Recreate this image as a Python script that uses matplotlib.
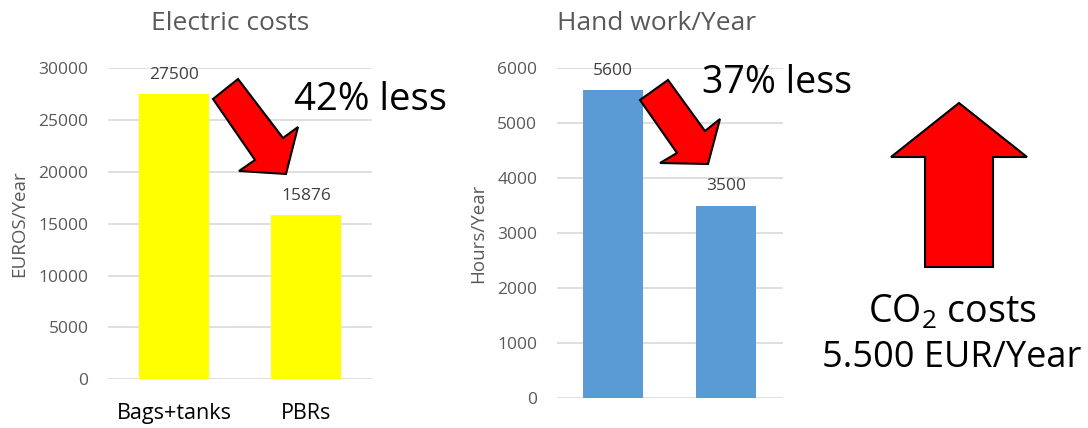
import matplotlib
matplotlib.use("Agg")
import matplotlib.pyplot as plt
from matplotlib.patches import Polygon

plt.rcParams['font.family'] = ['Open Sans', 'DejaVu Sans']
plt.rcParams['mathtext.default'] = 'regular'

# Data
categories = ["Bags+tanks", "PBRs"]
electric_costs = [27500, 15876]      # EUROS/Year
hand_work = [5600, 3500]             # Hours/Year
electric_ticks = [0, 5000, 10000, 15000, 20000, 25000, 30000]
hand_ticks = [0, 1000, 2000, 3000, 4000, 5000, 6000]

W, H = 1088, 428
fig = plt.figure(figsize=(W / 100, H / 100), dpi=100)

GRID = "#d9d9d9"
TICK = "#595959"
LABEL = "#404040"


def px_axes(x0, x1, y_top, y_bot):
    return fig.add_axes([x0 / W, 1 - y_bot / H, (x1 - x0) / W, (y_bot - y_top) / H])


def style(ax, ticks, ylabel, show_x):
    ax.set_ylim(ticks[0], ticks[-1])
    ax.set_yticks(ticks)
    ax.set_xlim(-0.5, len(categories) - 0.5)
    for s in ax.spines.values():
        s.set_visible(False)
    ax.grid(axis='y', color=GRID, linewidth=1.2)
    ax.set_axisbelow(True)
    ax.tick_params(axis='y', length=0, pad=14, labelsize=12.5, labelcolor=TICK)
    ax.tick_params(axis='x', length=0, pad=17, labelsize=15.5, labelcolor='black')
    ax.set_xticks(range(len(categories)))
    ax.set_xticklabels(categories if show_x else [])
    ax.set_ylabel(ylabel, fontsize=13.5, color=TICK)


def value_labels(ax, bars, values):
    for b, v in zip(bars, values):
        ax.annotate(f"{v}", (b.get_x() + b.get_width() / 2, v),
                    xytext=(0, 8), textcoords='offset points',
                    ha='center', va='bottom', fontsize=12.5, color=LABEL)


# Electric costs chart
ax1 = px_axes(108, 372, 68.3, 379.3)
bars1 = ax1.bar(range(len(categories)), electric_costs, width=0.53, color="#FFFF00")
style(ax1, electric_ticks, "EUROS/Year", True)
value_labels(ax1, bars1, electric_costs)
ax1.yaxis.set_label_coords(-0.303, 0.5)

# Hand work chart
ax2 = px_axes(556.7, 783, 68.3, 397.7)
bars2 = ax2.bar(range(len(categories)), hand_work, width=0.53, color="#5B9BD5")
style(ax2, hand_ticks, "Hours/Year", False)
value_labels(ax2, bars2, hand_work)
ax2.yaxis.set_label_coords(-0.308, 0.5)

# Overlay for titles, arrows and callouts (pixel coordinates)
ov = fig.add_axes([0, 0, 1, 1], zorder=5)
ov.set_xlim(0, W)
ov.set_ylim(H, 0)
ov.axis('off')
ov.patch.set_alpha(0)

ov.text(230, 23, "Electric costs", ha='center', va='center', fontsize=19, color=TICK)
ov.text(657, 23, "Hand work/Year", ha='center', va='center', fontsize=19, color=TICK)

arrow_style = dict(facecolor="#FF0000", edgecolor="black", linewidth=1.5, joinstyle='miter')
down1 = [(213, 99), (238, 79), (283, 138), (298, 127), (286, 174), (239, 171), (255, 160)]
down2 = [(640, 100), (668, 80), (705, 131), (720, 119), (708, 164), (660, 163), (677, 153)]
up = [(959, 103), (1027, 157), (993, 157), (993, 267), (925, 267), (925, 157), (891, 157)]
for pts in (down1, down2, up):
    ov.add_patch(Polygon(pts, closed=True, **arrow_style))

ov.text(370, 100, "42% less", ha='center', va='center', fontsize=27.5, color='black')
ov.text(777, 83, "37% less", ha='center', va='center', fontsize=27, color='black')
ov.text(952, 313, "CO$_2$ costs", ha='center', va='center', fontsize=27, color='black')
ov.text(952, 358, "5.500 EUR/Year", ha='center', va='center', fontsize=26, color='black')

fig.savefig("out.png", dpi=100)
